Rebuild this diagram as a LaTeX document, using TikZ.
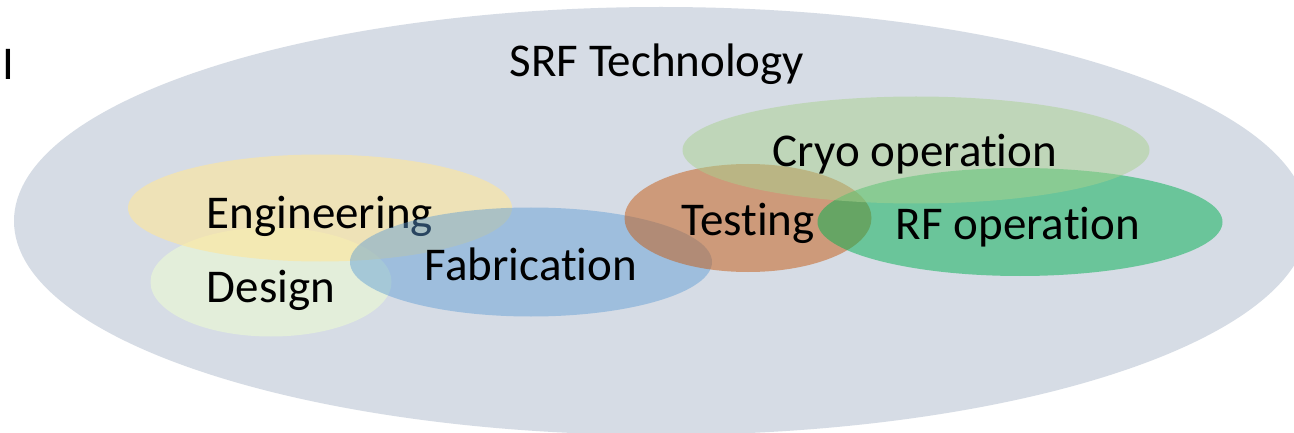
\documentclass[tikz,border=0pt]{standalone}
\usepackage{fontspec}
\setmainfont[Ligatures=NoCommon]{Carlito}
\usetikzlibrary{shapes.geometric}
\definecolor{bgc}{RGB}{214,220,229}
\definecolor{engc}{RGB}{255,230,153}
\definecolor{desc}{RGB}{232,245,215}
\definecolor{fabc}{RGB}{91,155,213}
\definecolor{tstc}{RGB}{197,90,17}
\definecolor{cryc}{RGB}{169,209,142}
\definecolor{rfc}{RGB}{0,176,80}
\begin{document}
\begin{tikzpicture}[x=1pt,y=-1pt,
  blob/.style={ellipse, inner sep=0pt, draw=none},
  lbl/.style={anchor=base, inner sep=0pt, font=\fontsize{47}{56}\selectfont, text=black}]
\useasboundingbox (0,0) rectangle (1294,433);
\fill[white] (0,0) rectangle (1294,433);
\begin{scope}
\clip (0,0) rectangle (1294,433);
\node[blob, fill=bgc, minimum width=1294pt, minimum height=428pt] (srf) at (661,221) {};
\node[lbl] (srft) at (657,77) {SRF Technology};
\node[lbl] (itext) at (8,80) {I};
\node[blob, fill=desc, fill opacity=0.75, minimum width=241pt, minimum height=109pt] (des) at (271,282) {};
\node[blob, fill=engc, fill opacity=0.6, minimum width=384pt, minimum height=107pt] (eng) at (320,208) {};
\node[lbl] (engt) at (320,228) {Engineering};
\node[lbl] (dest) at (271,302) {Design};
\node[blob, fill=fabc, fill opacity=0.45, minimum width=362pt, minimum height=109pt] (fab) at (531,262) {};
\node[lbl] (fabt) at (531,280) {Fabrication};
\node[blob, fill=tstc, fill opacity=0.5, minimum width=247pt, minimum height=108pt] (tst) at (748,218) {};
\node[lbl] (tstt) at (748,236) {Testing};
\node[blob, fill=rfc, fill opacity=0.5, minimum width=405pt, minimum height=108pt] (rf) at (1020,222) {};
\node[lbl] (rft) at (1018,240) {RF operation};
\node[blob, fill=cryc, fill opacity=0.5, minimum width=467pt, minimum height=107pt] (cry) at (916,150) {};
\node[lbl] (cryt) at (915,167) {Cryo operation};
\end{scope}
\end{tikzpicture}
\end{document}
